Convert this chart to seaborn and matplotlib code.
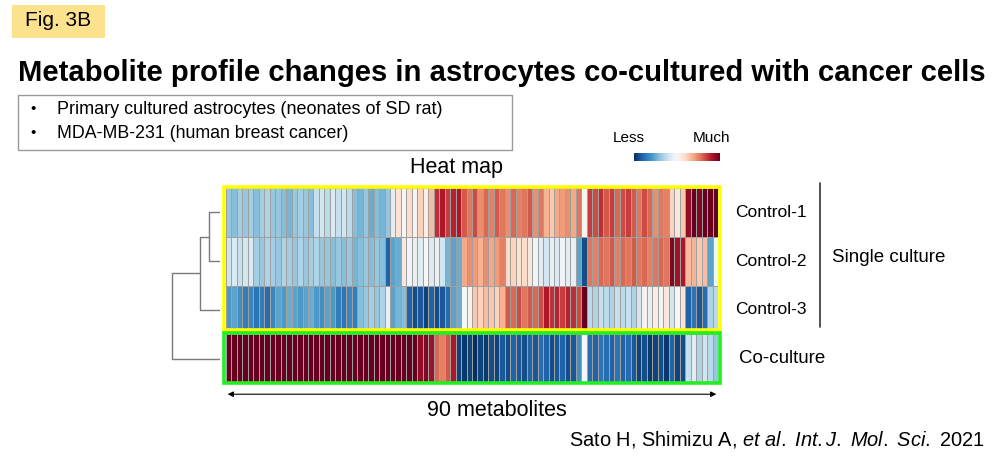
import matplotlib
matplotlib.use("Agg")
import matplotlib.pyplot as plt
from matplotlib.patches import Rectangle
import seaborn as sns
import numpy as np
import pandas as pd

# Valores (escala relativa, negativo = Less, positivo = Much)
row_labels = ["Control-1", "Control-2", "Control-3", "Co-culture"]

control_1 = [-0.5, -0.55, -0.45, -0.5, -0.45, -0.55, -0.45, -0.4, -0.5, -0.5, -0.55, -0.6, -0.5, -0.45, -0.5, -0.55,
             -0.3, -0.25, -0.35, -0.2, -0.3, -0.25, -0.35,
             -0.55, -0.6, -0.5, -0.65, -0.55, -0.6, -0.5,
             -0.15, 0.2, 0.0,
             0.25, 0.05, 0.3, 0.1, 0.4,
             0.95, 1.05, 0.9, 1.0,
             1.05, 0.8, 0.7, 0.85, 0.6, 0.75, 0.65, 0.8, 0.7, 0.6, 0.75, 0.65, 0.7, 0.8, 0.6, 0.7,
             0.45, 0.35, 0.5,
             0.55, 0.6, 0.5, 0.7,
             0.02,
             0.9, 0.85, 0.95, 0.8, 0.9, 0.75, 0.85, 0.9, 0.8, 0.7, 0.85, 0.75, 0.6, 0.7, 0.65,
             0.3, 0.15, 0.35,
             1.15, 1.35, 1.2, 1.55, 1.3, 1.45]

control_2 = [-0.25, -0.2, -0.3, -0.25, -0.2,
             -0.45, -0.5, -0.4, -0.45, -0.5, -0.4, -0.45, -0.5, -0.4, -0.5, -0.45, -0.4, -0.5,
             -0.5, -0.55, -0.5, -0.55, -0.5, -0.6, -0.55, -0.5, -0.55, -0.5, -0.55,
             -1.05,
             -0.7, -0.65,
             0.15, -0.05, -0.1, -0.15, 0.0, -0.2, -0.1, -0.25,
             -0.6, -0.7, -0.65,
             0.5, 0.6, 0.55, 0.45, 0.6, 0.5, 0.55, 0.65,
             0.25, 0.3, 0.2, 0.25, 0.15,
             -0.05, -0.15, -0.25, -0.1, -0.2, -0.05, -0.15, -0.1,
             -0.7,
             -1.15,
             0.7, 0.65, 0.75, 0.7, 0.8, 0.65, 0.75, 0.7, 0.8, 0.7, 0.75, 0.65, 0.7, 0.75, 0.7,
             1.2, 1.1, 1.05,
             0.4, 0.45, 0.35, 0.4,
             -0.7,
             -0.05]

control_3 = [-0.75, -0.7, -0.8,
             -0.9, -0.85, -0.95, -0.9, -1.0, -0.85,
             -0.7, -0.75, -0.65, -0.7, -0.75, -0.7, -0.65,
             -0.75, -0.8, -0.7, -0.75,
             -0.9, -0.95, -0.85, -0.9,
             -0.55, -0.5, -0.45, -0.5, -0.4,
             -0.1,
             -0.7, -0.6, -0.55,
             -1.05, -1.15, -1.1, -1.2, -1.05, -1.15, -1.1, -1.0,
             -0.7, -0.65,
             0.0, 0.05,
             0.35, 0.3, 0.4, 0.35, 0.3, 0.45,
             0.8, 0.75, 0.85, 0.7, 0.8, 0.75, 0.85,
             1.05, 0.95, 1.0, 0.9, 1.0, 0.95, 0.85,
             1.35,
             -0.35, -0.4, -0.3, -0.35, -0.4, -0.3, -0.35, -0.3, -0.4, -0.25,
             0.05, -0.1, 0.1, -0.05, 0.15, -0.25, 0.0, 0.2,
             -1.05, -0.95, -1.1, -1.0,
             -0.4, -0.35]

co_culture = [1.5, 1.45, 1.5, 1.45, 1.4, 1.5, 1.45, 1.5, 1.4, 1.5, 1.45, 1.5, 1.4, 1.5, 1.45, 1.5,
              1.45, 1.4, 1.5, 1.45, 1.5, 1.4, 1.5, 1.45, 1.5, 1.45, 1.4, 1.5, 1.45, 1.4, 1.5, 1.45,
              1.35, 1.3, 1.4,
              1.15, 1.2, 1.1,
              0.75, 0.65, 0.8,
              1.05,
              -1.2, -1.25, -1.2, -1.3, -1.2, -1.25, -1.15, -1.2,
              -1.1, -1.15, -1.05, -1.1, -1.15, -1.05, -1.1, -1.0, -1.05, -1.15, -1.1, -1.05, -1.15, -1.1,
              -0.8,
              0.0,
              -1.0, -1.05, -0.95, -1.0, -1.05, -0.95, -1.05, -1.0, -1.1,
              -1.2, -1.15, -1.25, -1.2, -1.15, -1.25, -1.05, -1.2, -1.15,
              -0.3, -0.15, -0.4, -0.25, -0.35, -0.5]

# alturas de union del dendrograma: (C1,C2), (+C3), (+Co-culture)
link_heights = [1.0, 1.8, 4.35]

df = pd.DataFrame([control_1, control_2, control_3, co_culture], index=row_labels)

sns.set_theme(style="white")
plt.rcParams['font.family'] = ['Liberation Sans', 'DejaVu Sans']
plt.rcParams['text.color'] = 'black'
plt.rcParams['mathtext.fontset'] = 'custom'
plt.rcParams['mathtext.rm'] = 'Liberation Sans'
plt.rcParams['mathtext.it'] = 'Liberation Sans:italic'

W, H = 1000, 463
fig = plt.figure(figsize=(10, 4.63), dpi=100)


def fx(px):
    return px / W


def fy(py):
    return 1 - py / H


# heatmap
ax = fig.add_axes([fx(226), fy(383), fx(718) - fx(226), (383 - 188) / H])
sns.heatmap(df, cmap="RdBu_r", vmin=-1.3, vmax=1.3, center=0,
            linewidths=0.45, linecolor="#a0a0a0", cbar=False,
            xticklabels=False, yticklabels=False, ax=ax)
ax.set_xlabel("")
ax.set_ylabel("")

# marcos amarillo y verde
ax.add_patch(Rectangle((-0.35, -0.03), 90.7, 2.95, fill=False, edgecolor="#ffff00",
                       lw=2.6, clip_on=False, zorder=5))
ax.add_patch(Rectangle((-0.35, 2.97), 90.7, 1.02, fill=False, edgecolor="#22ee22",
                       lw=2.6, clip_on=False, zorder=5))

# etiquetas de filas
for i, lab in enumerate(row_labels):
    if i < 3:
        ax.text(93.2, i + 0.5, lab, ha="left", va="center", fontsize=12.5)
    else:
        ax.text(93.9, i + 0.5, lab, ha="left", va="center", fontsize=13.5)

# flecha de metabolitos
ax.annotate("", xy=(-0.2, 4.23), xytext=(90.2, 4.23), annotation_clip=False,
            arrowprops=dict(arrowstyle="<|-|>", color="black", lw=0.8, mutation_scale=8))
fig.text(fx(497), fy(410), "90 metabolites", ha="center", va="center", fontsize=15.5)

# dendrograma
dax = fig.add_axes([fx(160), fy(383), fx(220) - fx(160), (383 - 188) / H])
dax.set_xlim(60 / 11, 0)
dax.set_ylim(4, 0)
dax.axis("off")
h1, h2, h3 = link_heights
lc = "#7a7a7a"
m12 = 1.0
m123 = (m12 + 2.5) / 2
dax.plot([0, h1, h1, 0], [0.5, 0.5, 1.5, 1.5], color=lc, lw=1)
dax.plot([h1, h2, h2, 0], [m12, m12, 2.5, 2.5], color=lc, lw=1)
dax.plot([h2, h3, h3, 0], [m123, m123, 3.5, 3.5], color=lc, lw=1)

# barra de color
cax = fig.add_axes([fx(634), fy(161), fx(720) - fx(634), 8 / H])
cb = fig.colorbar(ax.collections[0], cax=cax, orientation="horizontal")
cb.set_ticks([])
cb.outline.set_visible(False)
fig.text(fx(629), fy(138), "Less", ha="center", va="center", fontsize=11)
fig.text(fx(712), fy(138), "Much", ha="center", va="center", fontsize=11)

# textos
fig.text(fx(457), fy(168), "Heat map", ha="center", va="center", fontsize=15.5)
fig.add_artist(plt.Line2D([fx(820), fx(820)], [fy(183), fy(327)], color="#333333", lw=1.2))
fig.text(fx(832), fy(257), "Single culture", ha="left", va="center", fontsize=13.5)

fig.patches.append(Rectangle((fx(12), fy(38)), fx(105) - fx(12), 33 / H, transform=fig.transFigure,
                             facecolor="#fde28d", edgecolor="none"))
fig.text(fx(58), fy(21), "Fig. 3B", ha="center", va="center", fontsize=15)

fig.text(fx(18), fy(73), "Metabolite profile changes in astrocytes co-cultured with cancer cells",
         ha="left", va="center", fontsize=21.1, fontweight="bold")

fig.patches.append(Rectangle((fx(18), fy(150)), fx(512) - fx(18), 55 / H, transform=fig.transFigure,
                             facecolor="white", edgecolor="#9a9a9a", lw=1))
fig.text(fx(30), fy(109), "•", ha="left", va="center", fontsize=11)
fig.text(fx(57), fy(109), "Primary cultured astrocytes (neonates of SD rat)", ha="left", va="center", fontsize=13)
fig.text(fx(30), fy(133), "•", ha="left", va="center", fontsize=11)
fig.text(fx(57), fy(133), "MDA-MB-231 (human breast cancer)", ha="left", va="center", fontsize=12.8)

fig.text(fx(985), fy(440), r"Sato H, Shimizu A, $\mathit{et\ al.}$ $\mathit{Int.J.\ Mol.\ Sci.}$ 2021",
         ha="right", va="center", fontsize=14.4)

fig.savefig("out.png", dpi=100)
